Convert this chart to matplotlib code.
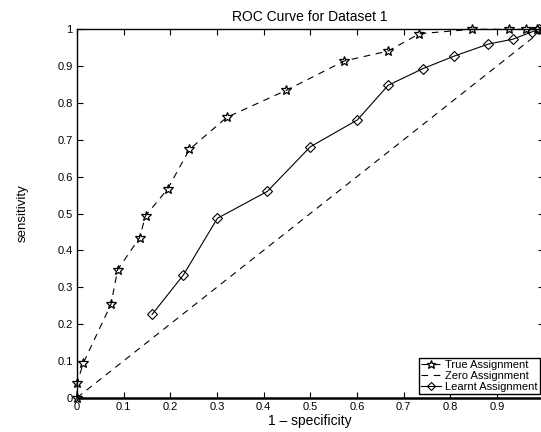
import matplotlib
matplotlib.use("Agg")
import matplotlib.pyplot as plt

true_x = [0.0, 0.0, 0.0135, 0.073, 0.087, 0.134, 0.147, 0.194, 0.241, 0.321, 0.448, 0.573, 0.667, 0.734, 0.847, 0.927, 0.962, 0.985, 1.0]
true_y = [0.0, 0.039, 0.094, 0.254, 0.347, 0.434, 0.494, 0.566, 0.674, 0.761, 0.834, 0.914, 0.941, 0.988, 1.0, 1.0, 1.0, 1.0, 1.0]

zero_x = [0.0, 1.0]
zero_y = [0.0, 1.0]

learnt_x = [0.161, 0.228, 0.301, 0.408, 0.500, 0.601, 0.667, 0.741, 0.808, 0.882, 0.934, 0.975, 0.99, 1.0]
learnt_y = [0.226, 0.333, 0.487, 0.560, 0.681, 0.754, 0.848, 0.893, 0.927, 0.960, 0.973, 0.993, 1.0, 1.0]

xticks = [0, 0.1, 0.2, 0.3, 0.4, 0.5, 0.6, 0.7, 0.8, 0.9]
xticklabels = ["0", "0.1", "0.2", "0.3", "0.4", "0.5", "0.6", "0.7", "0.8", "0.9"]
yticks = [0, 0.1, 0.2, 0.3, 0.4, 0.5, 0.6, 0.7, 0.8, 0.9, 1.0]
yticklabels = ["0", "0.1", "0.2", "0.3", "0.4", "0.5", "0.6", "0.7", "0.8", "0.9", "1"]

plt.rcParams['font.family'] = ['Liberation Sans', 'DejaVu Sans']

fig = plt.figure(figsize=(5.41, 4.32), dpi=100)
W, H = 541, 432
left_px, right_px, top_px, bot_px = 77, 543.5, 29.3, 397.7
ax = fig.add_axes([left_px / W, (H - bot_px) / H, (right_px - left_px) / W, (bot_px - top_px) / H])

ax.plot(true_x, true_y, color='black', linestyle=(0, (6, 5)), linewidth=0.8,
        marker='*', markersize=7.5, markerfacecolor='none', markeredgecolor='black',
        markeredgewidth=0.9, label='True Assignment', clip_on=False)
ax.plot(zero_x, zero_y, color='black', linestyle=(0, (6, 5)), linewidth=0.8,
        label='Zero Assignment')
ax.plot(learnt_x, learnt_y, color='black', linestyle='-', linewidth=0.8,
        marker='D', markersize=5, markerfacecolor='none', markeredgecolor='black',
        markeredgewidth=0.8, label='Learnt Assignment', clip_on=False)

ax.set_xlim(0, 1)
ax.set_ylim(0, 1)
ax.set_xticks(xticks)
ax.set_xticklabels(xticklabels)
ax.set_yticks(yticks)
ax.set_yticklabels(yticklabels)
ax.tick_params(direction='in', top=True, right=True, labelsize=8, length=4,
               width=0.8, pad=3)
for s in ['left', 'right', 'top']:
    ax.spines[s].set_linewidth(1.0)
ax.spines['bottom'].set_linewidth(1.8)

ax.set_title('ROC Curve for Dataset 1', fontsize=10, pad=6)
ax.set_xlabel('1 \u2013 specificity', fontsize=10, labelpad=1.5)
ax.set_ylabel('sensitivity', fontsize=9.5)
ax.yaxis.set_label_coords(-0.103, 0.5)

leg = ax.legend(loc='lower right', fontsize=8, handlelength=1.8, handletextpad=0.4,
                borderpad=0.2, labelspacing=0.1, fancybox=False, framealpha=1,
                edgecolor='black', borderaxespad=0.3, markerscale=0.85)
leg.get_frame().set_linewidth(1.0)

fig.savefig('out.png', dpi=100)
